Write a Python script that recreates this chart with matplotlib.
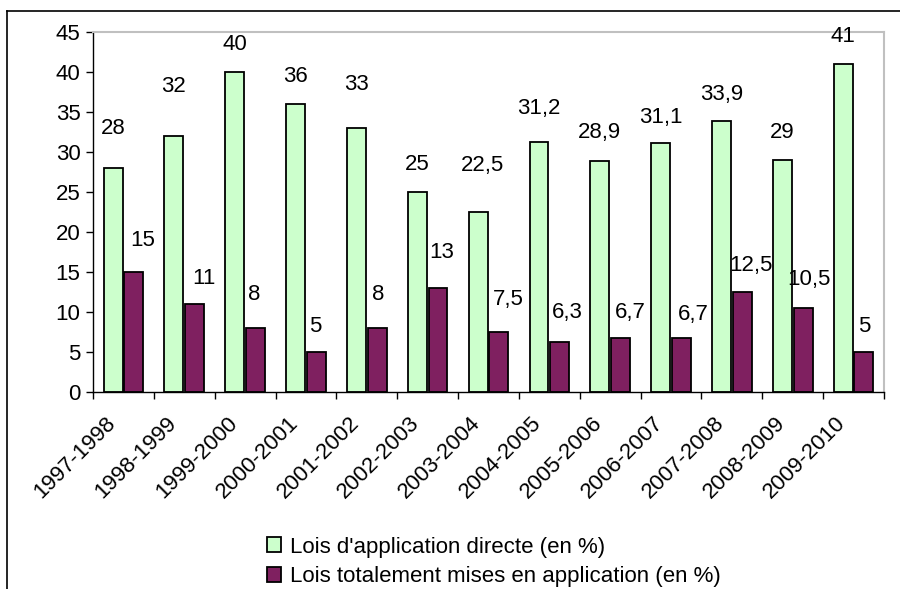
import matplotlib.pyplot as plt
import matplotlib.transforms as mtransforms
from matplotlib.lines import Line2D
import numpy as np

plt.rcParams['font.family'] = ['Liberation Sans', 'DejaVu Sans']

# Data
Annees = ["1997-1998", "1998-1999", "1999-2000", "2000-2001", "2001-2002",
          "2002-2003", "2003-2004", "2004-2005", "2005-2006", "2006-2007",
          "2007-2008", "2008-2009", "2009-2010"]
Directe = [28, 32, 40, 36, 33, 25, 22.5, 31.2, 28.9, 31.1, 33.9, 29, 41]
Totale = [15, 11, 8, 5, 8, 13, 7.5, 6.3, 6.7, 6.7, 12.5, 10.5, 5]
Nom_Directe = "Lois d'application directe (en %)"
Nom_Totale = "Lois totalement mises en application (en %)"

# label placement (pixels above the bar top, sideways shift)
Dy_Directe = [40, 50, 28, 28, 44, 28, 46, 34, 28, 26, 26, 28, 27]
Dx_Directe = [0, 0, 0, 0, 0, 0, 4, 0, 0, 0, 0, 0, 0]
Dy_Totale = [32, 26, 34, 26, 34, 36, 32, 29, 26, 24, 26, 28, 26]
Dx_Totale = [9, 9, -1, -1, 1, 4, 9, 8, 10, 12, 9, 6, 0]

Vert = "#ccffcc"
Prune = "#7f2060"
FS = 16

def fmt(v):
    s = ("%g" % v)
    return s.replace(".", ",")

fig = plt.figure(figsize=(9, 5.89), dpi=100)
ax = fig.add_axes([93/900, 1-392/589, 791/900, 360/589])

x = np.arange(len(Annees))
w = 0.31
b1 = ax.bar(x-0.17, Directe, w, color=Vert, edgecolor="black", linewidth=1.3, label=Nom_Directe)
b2 = ax.bar(x+0.17, Totale, w, color=Prune, edgecolor="black", linewidth=1.3, label=Nom_Totale)

for i in range(len(x)):
    ax.annotate(fmt(Directe[i]), (x[i]-0.17, Directe[i]), xytext=(Dx_Directe[i], Dy_Directe[i]),
                textcoords="offset pixels", ha="center", va="center", fontsize=FS, annotation_clip=False)
    ax.annotate(fmt(Totale[i]), (x[i]+0.17, Totale[i]), xytext=(Dx_Totale[i], Dy_Totale[i]),
                textcoords="offset pixels", ha="center", va="center", fontsize=FS, annotation_clip=False)

ax.set_xlim(-0.5, len(Annees)-0.5)
ax.set_ylim(0, 45)
ax.set_yticks(np.arange(0, 46, 5))
ax.tick_params(axis="y", direction="out", length=5, width=1, labelsize=FS, pad=4)

ax.set_xticks(x)
ax.set_xticks(np.arange(-0.5, len(Annees), 1), minor=True)
ax.tick_params(axis="x", which="major", length=0, pad=20, labelsize=FS)
ax.tick_params(axis="x", which="minor", direction="out", length=5, width=1)
ax.set_xticklabels(Annees, rotation=45, ha="right", va="center", rotation_mode="anchor")
shift = mtransforms.ScaledTranslation(-11/100, 0, fig.dpi_scale_trans)
for lbl in ax.get_xticklabels():
    lbl.set_transform(lbl.get_transform() + shift)

for s in ["top", "right"]:
    ax.spines[s].set_color("#c0c0c0")
    ax.spines[s].set_linewidth(1.5)
for s in ["left", "bottom"]:
    ax.spines[s].set_color("black")
    ax.spines[s].set_linewidth(1)

leg = fig.legend(handles=[b1, b2], loc="center left", bbox_to_anchor=(267/900, 1-562/589),
                 frameon=False, fontsize=FS, handlelength=0.65, handleheight=0.65,
                 handletextpad=0.4, labelspacing=0.4, borderpad=0, borderaxespad=0)

# outer chart frame
fig.add_artist(Line2D([7/900, 1], [1-11/589, 1-11/589], color="black", linewidth=1.2, transform=fig.transFigure))
fig.add_artist(Line2D([7/900, 7/900], [0, 1-11/589], color="black", linewidth=1.2, transform=fig.transFigure))

plt.savefig("out.png", dpi=100)
